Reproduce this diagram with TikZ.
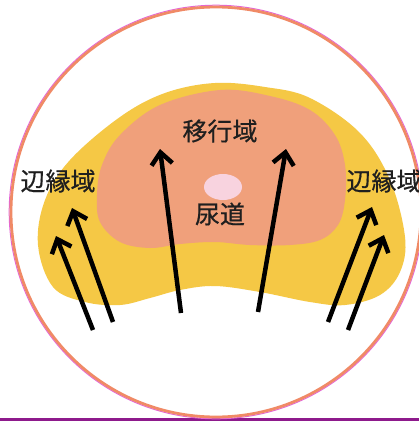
\documentclass[tikz,border=0pt]{standalone}
\usepackage{fontspec}
\newfontfamily\jpfont[FakeBold=0.45]{Noto Sans CJK JP}
\usetikzlibrary{arrows.meta}
\definecolor{pzYellow}{HTML}{F5C845}
\definecolor{tzSalmon}{HTML}{F0A07B}
\definecolor{urethraPink}{HTML}{F8D3DF}
\definecolor{capsuleOrange}{HTML}{F08A66}
\definecolor{capsuleFringe}{HTML}{E466D6}
\definecolor{basePurple}{HTML}{8E1A8C}
\begin{document}
\begin{tikzpicture}[x=1pt,y=-1pt,
  zonelabel/.style={font=\jpfont\fontsize{25}{25}\selectfont, inner sep=0pt, text=black!88},
  flow/.style={line width=4.5pt, black, -{Straight Barb[length=12pt,width=21pt]}},
]
\useasboundingbox (0,0) rectangle (419,421);
\fill[white] (0,0) rectangle (419,421);

% base line under the section
\fill[basePurple] (0,418) rectangle (419,421);

% prostate capsule
\draw[capsuleFringe, line width=1pt] (216,212) circle[radius=206.8];
\draw[capsuleOrange, line width=2.8pt] (216,212) circle[radius=205];

% peripheral zone
\fill[pzYellow] plot[smooth cycle, tension=0.6] coordinates {
  (215,83) (265,87) (310,98) (360,133) (390,180) (405,237) (400,272)
  (380,295) (345,305) (310,302) (260,292) (215,286) (180,290)
  (150,298) (120,305) (85,302) (53,287) (38,245) (45,200) (70,160)
  (120,117) (165,93)};

% transition zone
\fill[tzSalmon] plot[smooth cycle, tension=0.6] coordinates {
  (220,90) (270,96) (310,110) (335,135) (345,165) (345,200) (338,225)
  (320,240) (290,245) (250,245) (215,242) (180,244) (150,248)
  (120,242) (100,222) (97,195) (102,165) (120,135) (160,105)};

% urethra
\fill[urethraPink] (223,187) ellipse[x radius=19, y radius=13];

% labels
\node[zonelabel] (tz) at (220,131) {移行域};
\node[zonelabel] (ur) at (220,214) {尿道};
\node[zonelabel] (pzl) at (58,181) {辺縁域};
\node[zonelabel] (pzr) at (384,181) {辺縁域};

% flow arrows
\coordinate (a1s) at (93,330);  \coordinate (a1e) at (56,236);
\coordinate (a2s) at (113,322); \coordinate (a2e) at (72,208);
\coordinate (a3s) at (181,313); \coordinate (a3e) at (160,149);
\coordinate (a4s) at (258,312); \coordinate (a4e) at (286,149);
\coordinate (a5s) at (328,322); \coordinate (a5e) at (372,207);
\coordinate (a6s) at (348,330); \coordinate (a6e) at (384,235);
\foreach \i in {1,...,6} {
  \draw[flow] (a\i s) -- (a\i e);
}
\end{tikzpicture}
\end{document}
